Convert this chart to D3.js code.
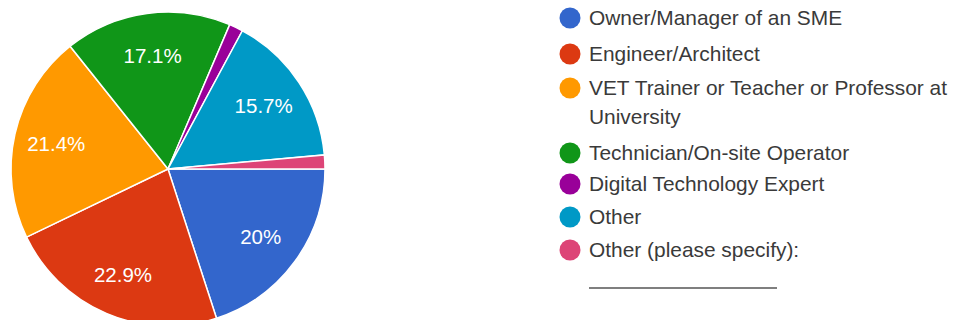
<!DOCTYPE html>
<html>
<head>
<meta charset="utf-8">
<script src="https://cdn.jsdelivr.net/npm/d3@7"></script>
<style>
  body { margin: 0; background: #fff; }
  svg { display: block; font-family: "Liberation Sans", Arial, sans-serif; }
</style>
</head>
<body>
<script>
// Réponses par catégorie (n = 70)
const categories = [
  "Owner/Manager of an SME",
  "Engineer/Architect",
  "VET Trainer or Teacher or Professor at University",
  "Technician/On-site Operator",
  "Digital Technology Expert",
  "Other",
  "Other (please specify):"
];
const counts = [14, 16, 15, 12, 1, 11, 1];
const colors = ["#3366cc", "#dc3912", "#ff9900", "#109618", "#990099", "#0099c6", "#dd4477"];

const width = 958, height = 320;
const cx = 168, cy = 169, radius = 157;

const svg = d3.select("body").append("svg")
  .attr("width", width)
  .attr("height", height);

const total = d3.sum(counts);
const data = categories.map((c, i) => ({ name: c, value: counts[i], color: colors[i] }));

// Départ à 3 heures, sens horaire
const pie = d3.pie()
  .value(d => d.value)
  .sort(null)
  .startAngle(Math.PI / 2)
  .endAngle(Math.PI / 2 + 2 * Math.PI);

const arc = d3.arc().innerRadius(0).outerRadius(radius);
const labelArc = d3.arc().innerRadius(radius * 0.73).outerRadius(radius * 0.73);

const g = svg.append("g").attr("transform", `translate(${cx},${cy})`);

const arcs = pie(data);

g.selectAll("path")
  .data(arcs)
  .join("path")
  .attr("d", arc)
  .attr("fill", d => d.data.color)
  .attr("stroke", "#fff")
  .attr("stroke-width", 1.5);

const fmt = v => {
  const p = Math.round(v / total * 1000) / 10;
  return (p % 1 === 0 ? p.toFixed(0) : p.toFixed(1)) + "%";
};

g.selectAll("text.lbl")
  .data(arcs.filter(d => d.data.value / total > 0.05))
  .join("text")
  .attr("class", "lbl")
  .attr("transform", d => `translate(${labelArc.centroid(d)})`)
  .attr("text-anchor", "middle")
  .attr("dy", "0.35em")
  .attr("fill", "#fff")
  .attr("font-size", 20.5)
  .text(d => fmt(d.data.value));

// Légende
const legendX = 570;
const legendRows = [18, 54, 88, 153, 184, 217, 250];
const lineH = 29;

const leg = svg.append("g");
data.forEach((d, i) => {
  const y = legendRows[i];
  leg.append("circle")
    .attr("cx", legendX)
    .attr("cy", y)
    .attr("r", 10.5)
    .attr("fill", d.color);
  const words = d.name === categories[2]
    ? ["VET Trainer or Teacher or Professor at", "University"]
    : [d.name];
  words.forEach((w, j) => {
    leg.append("text")
      .attr("x", legendX + 19)
      .attr("y", y + j * lineH)
      .attr("dy", "0.35em")
      .attr("font-size", 20.9)
      .attr("fill", "#3a3a3a")
      .text(w);
  });
});

leg.append("line")
  .attr("x1", 589).attr("x2", 777)
  .attr("y1", 288).attr("y2", 288)
  .attr("stroke", "#555")
  .attr("stroke-width", 1.5);
</script>
</body>
</html>
